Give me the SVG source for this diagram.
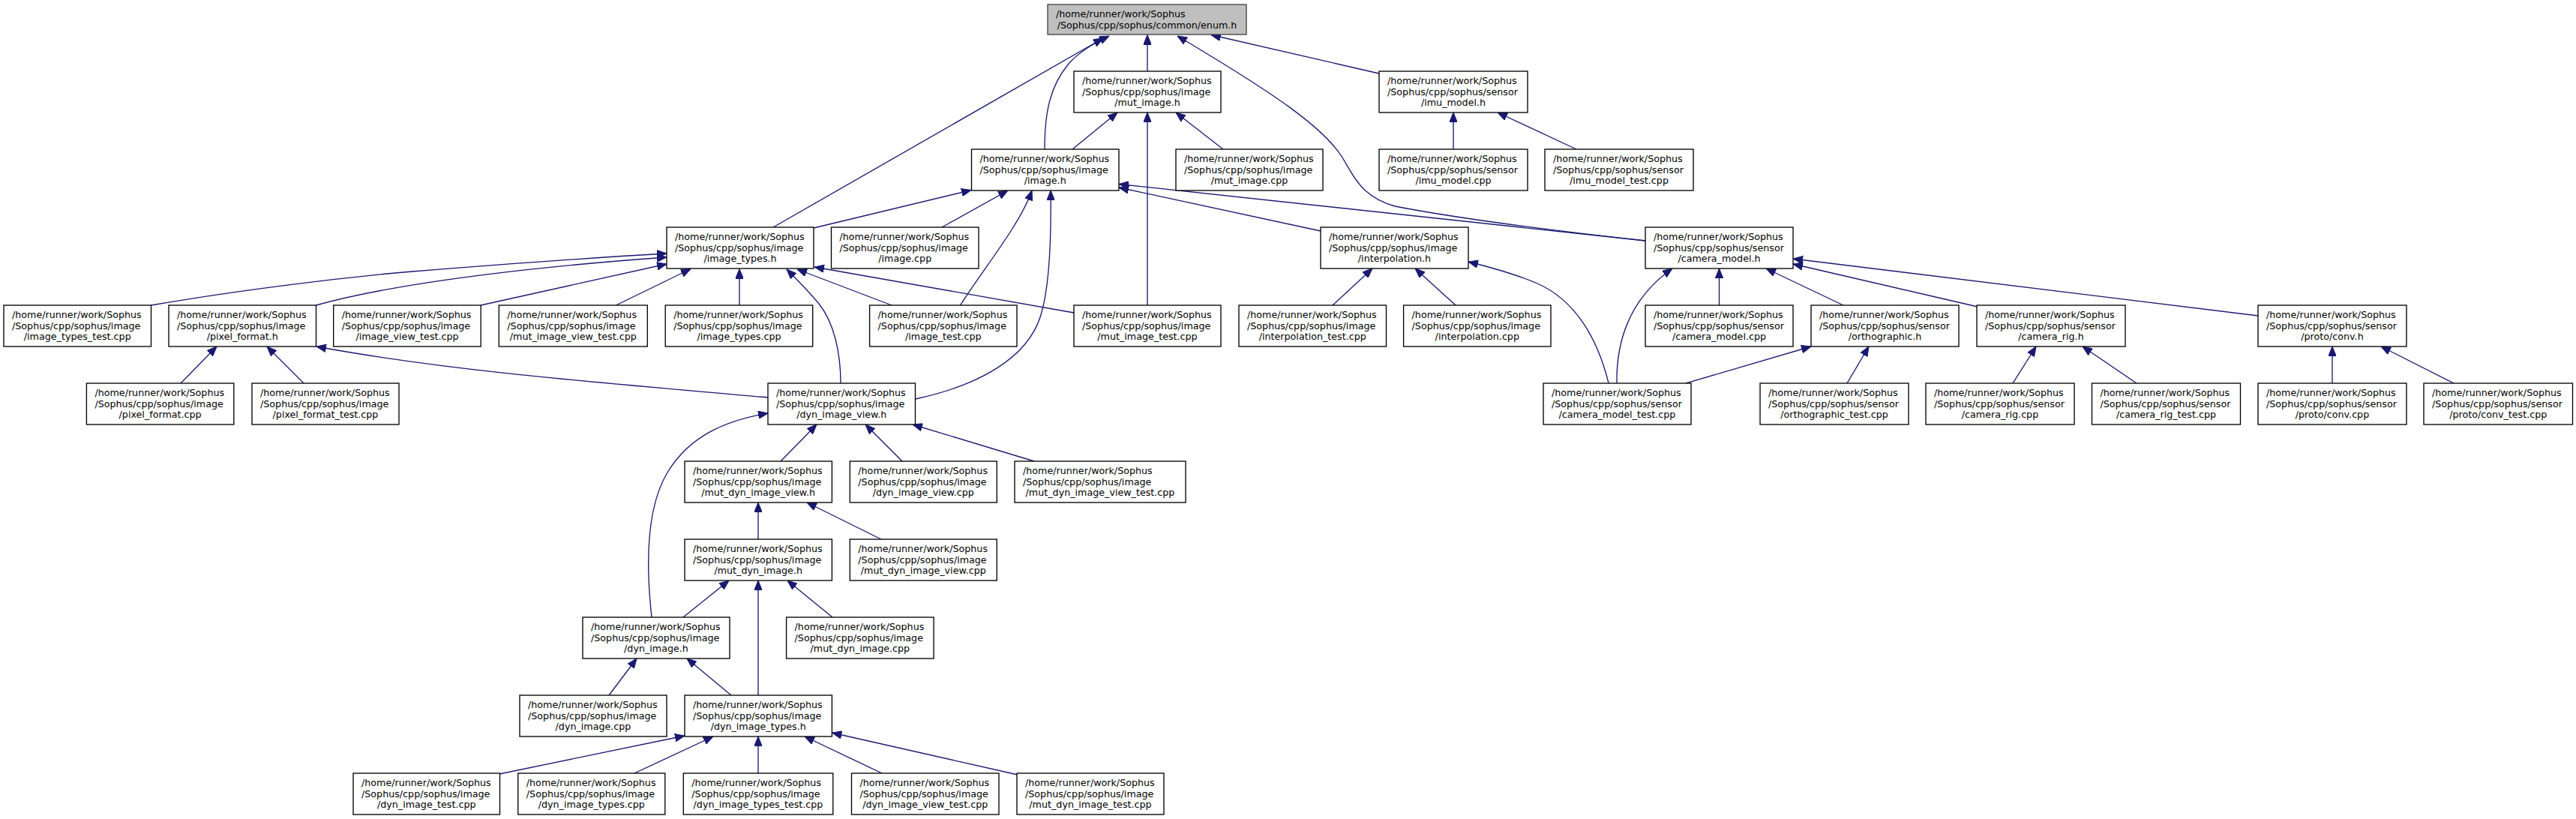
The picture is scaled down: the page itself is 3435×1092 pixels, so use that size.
<svg xmlns="http://www.w3.org/2000/svg" width="3435" height="1092" viewBox="0 0 3435 1092">
<style>
.n rect{fill:#fff;stroke:#000;stroke-width:1.33}
#n_enum rect{fill:#bfbfbf;stroke:#404040}
.n text{font-family:"DejaVu Sans",sans-serif;font-size:12.7px;fill:#000}
.n text.c{text-anchor:middle}
#edges path{fill:none;stroke:#191970;stroke-width:1.33;marker-end:url(#ah)}
</style>
<defs>
<marker id="ah" viewBox="0 0 13 10.6" refX="13" refY="5.3" markerWidth="13" markerHeight="10.6" markerUnits="userSpaceOnUse" orient="auto">
<path d="M0,0 L13,5.3 L0,10.6 Z" fill="#191970" stroke="#191970" stroke-width="1"/>
</marker>
</defs>
<rect x="0" y="0" width="3435" height="1092" fill="#fff"/>
<g id="edges">
<path d="M1031,303 L1471,51"/>
<path d="M1393,199 C1393,150 1400,115 1425,85 C1440,68 1460,57 1479,48"/>
<path d="M1530,95 L1530,46.5"/>
<path d="M2194,321 C2094,310 1948,292 1860,275 C1815,262 1805,235 1790,210 C1765,170 1700,125 1570,48"/>
<path d="M1839,98 L1615,46.5"/>
<path d="M1430,199 L1490,150"/>
<path d="M1631,199 L1568,150"/>
<path d="M1530,407 L1530,150"/>
<path d="M1938,199 L1938,150"/>
<path d="M2102,199 L1997,150"/>
<path d="M1085,304 L1295,253.5"/>
<path d="M1256,303 L1344,254"/>
<path d="M1280.5,407 C1310,360 1360,300 1376,254"/>
<path d="M1220.5,532 C1300,515 1370,480 1388,420 C1400,380 1402,320 1401,254"/>
<path d="M1761,308 L1492,250"/>
<path d="M2194,321 L1492,245.5"/>
<path d="M201.5,407 C300,390 450,370 550,362 C700,350 800,343 889,338"/>
<path d="M421.5,407 C500,385 650,360 889,343"/>
<path d="M641,407 L889,352"/>
<path d="M821.5,407 L921,358.5"/>
<path d="M986,407 L986,358.5"/>
<path d="M1121,511 C1121,470 1112,430 1092,405 C1078,388 1062,372 1049,359"/>
<path d="M1189,407 L1063,359"/>
<path d="M1432,417 L1086,356"/>
<path d="M241,511 L289,462"/>
<path d="M405,511 L356,462"/>
<path d="M1024,530 C800,510 600,495 422,462"/>
<path d="M1041,615 L1089,566"/>
<path d="M1203,615 L1154,566"/>
<path d="M1379,615 L1217,566"/>
<path d="M869,823 C862,760 860,680 890,630 C920,580 970,560 1024,551"/>
<path d="M1011,719 L1011,670"/>
<path d="M1175,719 L1076,670"/>
<path d="M911,823 L972,774"/>
<path d="M1011,927 L1011,774"/>
<path d="M1110,823 L1050,774"/>
<path d="M812,927 L849,878"/>
<path d="M975,927 L916,878"/>
<path d="M666,1032 L913,981"/>
<path d="M846,1031 L951,982"/>
<path d="M1011,1031 L1011,982"/>
<path d="M1176,1031 L1073,982"/>
<path d="M1357,1033 L1109.5,977"/>
<path d="M1777,407 L1830,358"/>
<path d="M1941,407 L1887,358"/>
<path d="M2145,511 C2130,450 2100,400 2050,378 C2020,365 1990,357 1958,349"/>
<path d="M2156,511 C2155,460 2170,400 2230,358"/>
<path d="M2292.5,407 L2292.5,358"/>
<path d="M2458,407 L2355,358"/>
<path d="M2637,409 L2391,352"/>
<path d="M3011,421 L2391,345"/>
<path d="M2463,511 L2492,462"/>
<path d="M2248,511 L2415,462"/>
<path d="M2684,511 L2715,462"/>
<path d="M2849,511 L2777,462"/>
<path d="M3110,511 L3110,462"/>
<path d="M3272,511 L3175,462"/>
</g>
<g id="n_enum" class="n"><rect x="1397" y="6" width="265" height="40"/><text x="1408" y="23">/home/runner/work/Sophus</text><text class="c" x="1529.5" y="37.7">/Sophus/cpp/sophus/common/enum.h</text></g>
<g id="n_mut_image_h" class="n"><rect x="1432" y="95" width="196" height="55"/><text x="1443" y="112">/home/runner/work/Sophus</text><text x="1443" y="126.7">/Sophus/cpp/sophus/image</text><text class="c" x="1530" y="141.3">/mut_image.h</text></g>
<g id="n_imu_model_h" class="n"><rect x="1839" y="95" width="198" height="55"/><text x="1850" y="112">/home/runner/work/Sophus</text><text x="1850" y="126.7">/Sophus/cpp/sophus/sensor</text><text class="c" x="1938" y="141.3">/imu_model.h</text></g>
<g id="n_image_h" class="n"><rect x="1295.5" y="199" width="196.5" height="55"/><text x="1306.5" y="216">/home/runner/work/Sophus</text><text x="1306.5" y="230.7">/Sophus/cpp/sophus/image</text><text class="c" x="1393.75" y="245.3">/image.h</text></g>
<g id="n_mut_image_cpp" class="n"><rect x="1568" y="199" width="196" height="55"/><text x="1579" y="216">/home/runner/work/Sophus</text><text x="1579" y="230.7">/Sophus/cpp/sophus/image</text><text class="c" x="1666" y="245.3">/mut_image.cpp</text></g>
<g id="n_imu_model_cpp" class="n"><rect x="1839" y="199" width="198" height="55"/><text x="1850" y="216">/home/runner/work/Sophus</text><text x="1850" y="230.7">/Sophus/cpp/sophus/sensor</text><text class="c" x="1938" y="245.3">/imu_model.cpp</text></g>
<g id="n_imu_model_test_cpp" class="n"><rect x="2060" y="199" width="198" height="55"/><text x="2071" y="216">/home/runner/work/Sophus</text><text x="2071" y="230.7">/Sophus/cpp/sophus/sensor</text><text class="c" x="2159" y="245.3">/imu_model_test.cpp</text></g>
<g id="n_image_types_h" class="n"><rect x="889" y="303" width="196" height="55"/><text x="900" y="320">/home/runner/work/Sophus</text><text x="900" y="334.7">/Sophus/cpp/sophus/image</text><text class="c" x="987" y="349.3">/image_types.h</text></g>
<g id="n_image_cpp" class="n"><rect x="1108.5" y="303" width="196.5" height="55"/><text x="1119.5" y="320">/home/runner/work/Sophus</text><text x="1119.5" y="334.7">/Sophus/cpp/sophus/image</text><text class="c" x="1206.75" y="349.3">/image.cpp</text></g>
<g id="n_interpolation_h" class="n"><rect x="1761" y="303" width="197" height="55"/><text x="1772" y="320">/home/runner/work/Sophus</text><text x="1772" y="334.7">/Sophus/cpp/sophus/image</text><text class="c" x="1859.5" y="349.3">/interpolation.h</text></g>
<g id="n_camera_model_h" class="n"><rect x="2194" y="303" width="197" height="55"/><text x="2205" y="320">/home/runner/work/Sophus</text><text x="2205" y="334.7">/Sophus/cpp/sophus/sensor</text><text class="c" x="2292.5" y="349.3">/camera_model.h</text></g>
<g id="n_image_types_test_cpp" class="n"><rect x="5" y="407" width="196.5" height="55"/><text x="16" y="424">/home/runner/work/Sophus</text><text x="16" y="438.7">/Sophus/cpp/sophus/image</text><text class="c" x="103.25" y="453.3">/image_types_test.cpp</text></g>
<g id="n_pixel_format_h" class="n"><rect x="225" y="407" width="196.5" height="55"/><text x="236" y="424">/home/runner/work/Sophus</text><text x="236" y="438.7">/Sophus/cpp/sophus/image</text><text class="c" x="323.25" y="453.3">/pixel_format.h</text></g>
<g id="n_image_view_test_cpp" class="n"><rect x="444.7" y="407" width="196.5" height="55"/><text x="455.7" y="424">/home/runner/work/Sophus</text><text x="455.7" y="438.7">/Sophus/cpp/sophus/image</text><text class="c" x="543" y="453.3">/image_view_test.cpp</text></g>
<g id="n_mut_image_view_test_cpp" class="n"><rect x="665.3" y="407" width="198" height="55"/><text x="676.3" y="424">/home/runner/work/Sophus</text><text x="676.3" y="438.7">/Sophus/cpp/sophus/image</text><text class="c" x="764.3" y="453.3">/mut_image_view_test.cpp</text></g>
<g id="n_image_types_cpp" class="n"><rect x="887.2" y="407" width="196.5" height="55"/><text x="898.2" y="424">/home/runner/work/Sophus</text><text x="898.2" y="438.7">/Sophus/cpp/sophus/image</text><text class="c" x="985.5" y="453.3">/image_types.cpp</text></g>
<g id="n_image_test_cpp" class="n"><rect x="1159.6" y="407" width="196.4" height="55"/><text x="1170.6" y="424">/home/runner/work/Sophus</text><text x="1170.6" y="438.7">/Sophus/cpp/sophus/image</text><text class="c" x="1257.8" y="453.3">/image_test.cpp</text></g>
<g id="n_mut_image_test_cpp" class="n"><rect x="1432" y="407" width="196" height="55"/><text x="1443" y="424">/home/runner/work/Sophus</text><text x="1443" y="438.7">/Sophus/cpp/sophus/image</text><text class="c" x="1530" y="453.3">/mut_image_test.cpp</text></g>
<g id="n_interpolation_test_cpp" class="n"><rect x="1652" y="407" width="196.5" height="55"/><text x="1663" y="424">/home/runner/work/Sophus</text><text x="1663" y="438.7">/Sophus/cpp/sophus/image</text><text class="c" x="1750.25" y="453.3">/interpolation_test.cpp</text></g>
<g id="n_interpolation_cpp" class="n"><rect x="1871.6" y="407" width="196.4" height="55"/><text x="1882.6" y="424">/home/runner/work/Sophus</text><text x="1882.6" y="438.7">/Sophus/cpp/sophus/image</text><text class="c" x="1969.8" y="453.3">/interpolation.cpp</text></g>
<g id="n_camera_model_cpp" class="n"><rect x="2194" y="407" width="197" height="55"/><text x="2205" y="424">/home/runner/work/Sophus</text><text x="2205" y="438.7">/Sophus/cpp/sophus/sensor</text><text class="c" x="2292.5" y="453.3">/camera_model.cpp</text></g>
<g id="n_orthographic_h" class="n"><rect x="2415" y="407" width="197" height="55"/><text x="2426" y="424">/home/runner/work/Sophus</text><text x="2426" y="438.7">/Sophus/cpp/sophus/sensor</text><text class="c" x="2513.5" y="453.3">/orthographic.h</text></g>
<g id="n_camera_rig_h" class="n"><rect x="2636" y="407" width="198" height="55"/><text x="2647" y="424">/home/runner/work/Sophus</text><text x="2647" y="438.7">/Sophus/cpp/sophus/sensor</text><text class="c" x="2735" y="453.3">/camera_rig.h</text></g>
<g id="n_conv_h" class="n"><rect x="3011" y="407" width="198" height="55"/><text x="3022" y="424">/home/runner/work/Sophus</text><text x="3022" y="438.7">/Sophus/cpp/sophus/sensor</text><text class="c" x="3110" y="453.3">/proto/conv.h</text></g>
<g id="n_pixel_format_cpp" class="n"><rect x="115.4" y="511" width="196.4" height="55"/><text x="126.4" y="528">/home/runner/work/Sophus</text><text x="126.4" y="542.7">/Sophus/cpp/sophus/image</text><text class="c" x="213.6" y="557.3">/pixel_format.cpp</text></g>
<g id="n_pixel_format_test_cpp" class="n"><rect x="336" y="511" width="196" height="55"/><text x="347" y="528">/home/runner/work/Sophus</text><text x="347" y="542.7">/Sophus/cpp/sophus/image</text><text class="c" x="434" y="557.3">/pixel_format_test.cpp</text></g>
<g id="n_dyn_image_view_h" class="n"><rect x="1024" y="511" width="196.5" height="55"/><text x="1035" y="528">/home/runner/work/Sophus</text><text x="1035" y="542.7">/Sophus/cpp/sophus/image</text><text class="c" x="1122.25" y="557.3">/dyn_image_view.h</text></g>
<g id="n_camera_model_test_cpp" class="n"><rect x="2058" y="511" width="197" height="55"/><text x="2069" y="528">/home/runner/work/Sophus</text><text x="2069" y="542.7">/Sophus/cpp/sophus/sensor</text><text class="c" x="2156.5" y="557.3">/camera_model_test.cpp</text></g>
<g id="n_orthographic_test_cpp" class="n"><rect x="2347" y="511" width="198" height="55"/><text x="2358" y="528">/home/runner/work/Sophus</text><text x="2358" y="542.7">/Sophus/cpp/sophus/sensor</text><text class="c" x="2446" y="557.3">/orthographic_test.cpp</text></g>
<g id="n_camera_rig_cpp" class="n"><rect x="2568" y="511" width="198" height="55"/><text x="2579" y="528">/home/runner/work/Sophus</text><text x="2579" y="542.7">/Sophus/cpp/sophus/sensor</text><text class="c" x="2667" y="557.3">/camera_rig.cpp</text></g>
<g id="n_camera_rig_test_cpp" class="n"><rect x="2789.5" y="511" width="198" height="55"/><text x="2800.5" y="528">/home/runner/work/Sophus</text><text x="2800.5" y="542.7">/Sophus/cpp/sophus/sensor</text><text class="c" x="2888.5" y="557.3">/camera_rig_test.cpp</text></g>
<g id="n_conv_cpp" class="n"><rect x="3011" y="511" width="198" height="55"/><text x="3022" y="528">/home/runner/work/Sophus</text><text x="3022" y="542.7">/Sophus/cpp/sophus/sensor</text><text class="c" x="3110" y="557.3">/proto/conv.cpp</text></g>
<g id="n_conv_test_cpp" class="n"><rect x="3232" y="511" width="198.5" height="55"/><text x="3243" y="528">/home/runner/work/Sophus</text><text x="3243" y="542.7">/Sophus/cpp/sophus/sensor</text><text class="c" x="3331.25" y="557.3">/proto/conv_test.cpp</text></g>
<g id="n_mut_dyn_image_view_h" class="n"><rect x="913" y="615" width="196.4" height="55"/><text x="924" y="632">/home/runner/work/Sophus</text><text x="924" y="646.7">/Sophus/cpp/sophus/image</text><text class="c" x="1011.2" y="661.3">/mut_dyn_image_view.h</text></g>
<g id="n_dyn_image_view_cpp" class="n"><rect x="1133.3" y="615" width="196" height="55"/><text x="1144.3" y="632">/home/runner/work/Sophus</text><text x="1144.3" y="646.7">/Sophus/cpp/sophus/image</text><text class="c" x="1231.3" y="661.3">/dyn_image_view.cpp</text></g>
<g id="n_mut_dyn_image_view_test_cpp" class="n"><rect x="1353" y="615" width="228" height="55"/><text x="1364" y="632">/home/runner/work/Sophus</text><text x="1364" y="646.7">/Sophus/cpp/sophus/image</text><text class="c" x="1467" y="661.3">/mut_dyn_image_view_test.cpp</text></g>
<g id="n_mut_dyn_image_h" class="n"><rect x="913" y="719" width="196.4" height="55"/><text x="924" y="736">/home/runner/work/Sophus</text><text x="924" y="750.7">/Sophus/cpp/sophus/image</text><text class="c" x="1011.2" y="765.3">/mut_dyn_image.h</text></g>
<g id="n_mut_dyn_image_view_cpp" class="n"><rect x="1133.3" y="719" width="196" height="55"/><text x="1144.3" y="736">/home/runner/work/Sophus</text><text x="1144.3" y="750.7">/Sophus/cpp/sophus/image</text><text class="c" x="1231.3" y="765.3">/mut_dyn_image_view.cpp</text></g>
<g id="n_dyn_image_h" class="n"><rect x="777" y="823" width="196" height="55"/><text x="788" y="840">/home/runner/work/Sophus</text><text x="788" y="854.7">/Sophus/cpp/sophus/image</text><text class="c" x="875" y="869.3">/dyn_image.h</text></g>
<g id="n_mut_dyn_image_cpp" class="n"><rect x="1048.6" y="823" width="196.5" height="55"/><text x="1059.6" y="840">/home/runner/work/Sophus</text><text x="1059.6" y="854.7">/Sophus/cpp/sophus/image</text><text class="c" x="1146.85" y="869.3">/mut_dyn_image.cpp</text></g>
<g id="n_dyn_image_cpp" class="n"><rect x="693" y="927" width="196" height="55"/><text x="704" y="944">/home/runner/work/Sophus</text><text x="704" y="958.7">/Sophus/cpp/sophus/image</text><text class="c" x="791" y="973.3">/dyn_image.cpp</text></g>
<g id="n_dyn_image_types_h" class="n"><rect x="913" y="927" width="196.4" height="55"/><text x="924" y="944">/home/runner/work/Sophus</text><text x="924" y="958.7">/Sophus/cpp/sophus/image</text><text class="c" x="1011.2" y="973.3">/dyn_image_types.h</text></g>
<g id="n_dyn_image_test_cpp" class="n"><rect x="471" y="1031" width="195.5" height="55"/><text x="482" y="1048">/home/runner/work/Sophus</text><text x="482" y="1062.7">/Sophus/cpp/sophus/image</text><text class="c" x="568.75" y="1077.3">/dyn_image_test.cpp</text></g>
<g id="n_dyn_image_types_cpp" class="n"><rect x="690.8" y="1031" width="196" height="55"/><text x="701.8" y="1048">/home/runner/work/Sophus</text><text x="701.8" y="1062.7">/Sophus/cpp/sophus/image</text><text class="c" x="788.8" y="1077.3">/dyn_image_types.cpp</text></g>
<g id="n_dyn_image_types_test_cpp" class="n"><rect x="911.3" y="1031" width="199.5" height="55"/><text x="922.3" y="1048">/home/runner/work/Sophus</text><text x="922.3" y="1062.7">/Sophus/cpp/sophus/image</text><text class="c" x="1011" y="1077.3">/dyn_image_types_test.cpp</text></g>
<g id="n_dyn_image_view_test_cpp" class="n"><rect x="1135.5" y="1031" width="196.5" height="55"/><text x="1146.5" y="1048">/home/runner/work/Sophus</text><text x="1146.5" y="1062.7">/Sophus/cpp/sophus/image</text><text class="c" x="1233.75" y="1077.3">/dyn_image_view_test.cpp</text></g>
<g id="n_mut_dyn_image_test_cpp" class="n"><rect x="1356" y="1031" width="196" height="55"/><text x="1367" y="1048">/home/runner/work/Sophus</text><text x="1367" y="1062.7">/Sophus/cpp/sophus/image</text><text class="c" x="1454" y="1077.3">/mut_dyn_image_test.cpp</text></g>
</svg>
